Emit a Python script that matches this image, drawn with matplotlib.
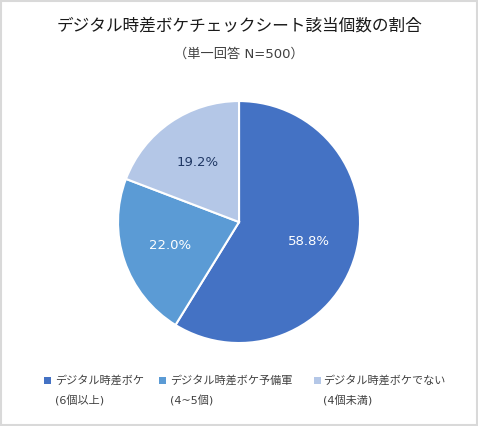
import matplotlib
matplotlib.use("Agg")
import matplotlib.pyplot as plt
from matplotlib.patches import Rectangle

plt.rcParams['font.family'] = ['Noto Sans CJK JP', 'DejaVu Sans']
LATIN = ['DejaVu Sans', 'Noto Sans CJK JP']

title = "デジタル時差ボケチェックシート該当個数の割合"
subtitle = "（単一回答 N=500）"
categories = ["デジタル時差ボケ\n(6個以上)", "デジタル時差ボケ予備軍\n(4~5個)", "デジタル時差ボケでない\n(4個未満)"]
values = [58.8, 22.0, 19.2]
colors = ["#4472C4", "#5B9BD5", "#B4C7E7"]
label_colors = ["white", "white", "#203864"]

fig = plt.figure(figsize=(4.78, 4.26), dpi=100)
fig.patch.set_facecolor("white")
fig.patches.append(Rectangle((0.002, 0.002), 0.996, 0.995, transform=fig.transFigure,
                             fill=False, edgecolor="#D9D9D9", linewidth=1.5))

ax = fig.add_axes([0.2469, 0.1948, 0.5063, 0.568])
wedges, texts, autotexts = ax.pie(values, colors=colors, startangle=90, counterclock=False,
                                  autopct="%.1f%%", pctdistance=0.6,
                                  wedgeprops=dict(edgecolor="white", linewidth=1.5),
                                  textprops=dict(fontsize=9.5, family=LATIN))
for t, c in zip(autotexts, label_colors):
    t.set_color(c)
ax.set_xlim(-1, 1)
ax.set_ylim(-1, 1)
ax.set_aspect("auto")
for w in wedges:
    w.set_clip_on(False)

fig.text(0.5, 0.939, title, ha="center", va="center", fontsize=12, color="#1a1a1a")
fig.text(0.5, 0.873, subtitle, ha="center", va="center", fontsize=9.5, color="#404040",
         family=LATIN)

# legend
marker_x = [47, 162, 317]
text_x = [55, 170, 323]
for mx, tx, lab, col in zip(marker_x, text_x, categories, colors):
    fig.patches.append(Rectangle(((mx - 3.5) / 478, 1 - (380 + 3.5) / 426), 7 / 478, 7 / 426,
                                 transform=fig.transFigure, facecolor=col, edgecolor="none"))
    line1, line2 = lab.split("\n")
    fig.text(tx / 478, 1 - 380 / 426, line1, ha="left", va="center", fontsize=8, color="#404040")
    fig.text(tx / 478, 1 - 401 / 426, line2, ha="left", va="center", fontsize=8, color="#404040",
             family=LATIN)

fig.savefig("out.png", dpi=100)
